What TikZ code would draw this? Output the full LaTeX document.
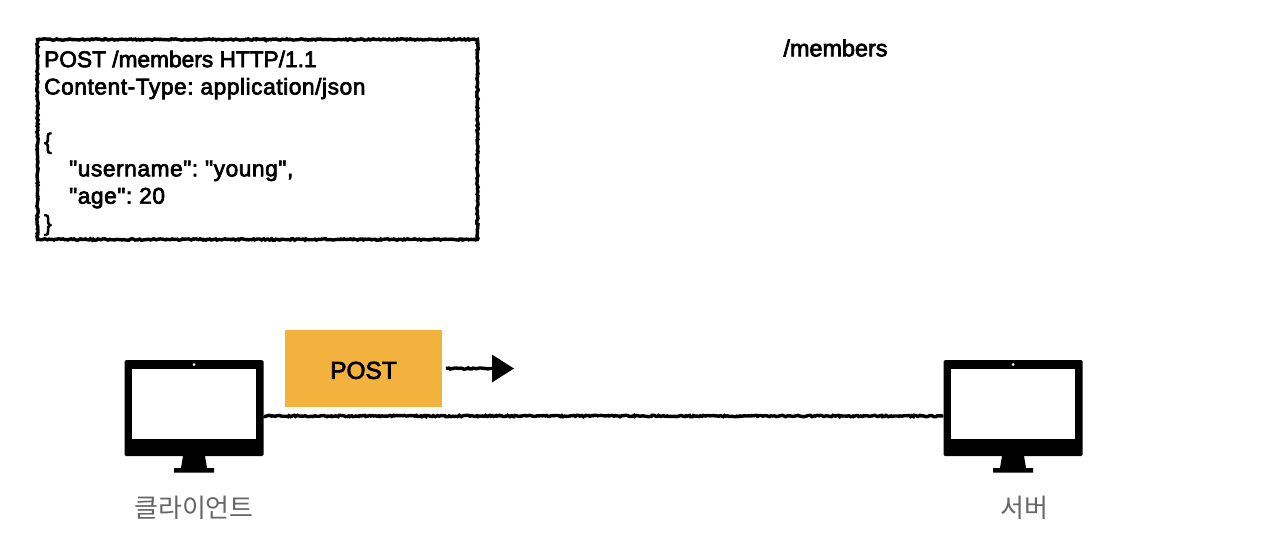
\documentclass[tikz,border=0pt]{standalone}
\usepackage{fontspec}
\setmainfont{Liberation Sans}
\newfontfamily\labelfont[FakeBold=3]{Liberation Sans}
\newfontfamily\widefont[FakeBold=3,LetterSpace=2.5]{Liberation Sans}
\newfontfamily\kofont{Noto Sans CJK KR}
\usetikzlibrary{arrows.meta,decorations.pathmorphing}
\definecolor{accent}{RGB}{243,178,61}
\definecolor{caption}{RGB}{102,102,102}
\tikzset{
  rough/.style={decorate,decoration={random steps,segment length=1.6pt,amplitude=.7pt}},
  monitor/.pic={
    \node[fill=black,rounded corners=1.5pt,inner sep=0,minimum width=139pt,minimum height=96pt] (body) at (0,0) {};
    \fill[black] (-11,48) -- (11,48) -- (13,60) -- (20,60) -- (20,64.5) -- (-20,64.5) -- (-20,60) -- (-13,60) -- cycle;
    \fill[white] (-61.7,-38.7) rectangle (61.7,31.3);
    \fill[white] (0,-43.5) circle (1.5);
  }
}
\begin{document}
\begin{tikzpicture}[x=1pt,y=-1pt,>={Triangle[length=22pt,width=27pt]}]
  \pgfmathsetseed{7}
  \useasboundingbox (0,0) rectangle (1278,550);
  \node[draw,rough,line width=3.4pt,inner sep=0,minimum width=440pt,minimum height=200pt] (request) at (257.5,139.5) {};
  \node[anchor=north west,inner sep=0,align=left,font=\frenchspacing\fontsize{22.7}{27.3}\labelfont] (body text) at (44,50.5)
        {POST /members HTTP/1.1\\
         {\widefont Content-Type: application/json}\\
         \mbox{}\\
         \{\\
         \hspace*{25pt}{\widefont "username": "young",}\\
         \hspace*{25pt}{\widefont "age": 20}\\
         \}};
  \node[font=\fontsize{23.4}{28}\labelfont] (path) at (835.5,48) {/members};

  \pic (client) at (194,408) {monitor};
  \pic (server) at (1013,408) {monitor};
  \node[font=\fontsize{26}{30}\kofont,text=caption] (client label) at (194,507.5) {클라이언트};
  \node[font=\fontsize{26}{30}\kofont,text=caption] (server label) at (1024.5,507.5) {서버};

  \node[fill=accent,inner sep=0,minimum width=157pt,minimum height=77pt,text height=20.6pt,text depth=0pt,font=\fontsize{24.4}{29}\labelfont] (post) at (363.5,368.5) {POST};
  \coordinate (post start) at (446,368.5);
  \coordinate (post tip) at (514,368.5);
  \draw[rough,line width=3.4pt] ([yshift=-8pt]clientbody.east) -- ([yshift=-8pt]serverbody.west);
  \draw[->,rough,decoration={post=lineto,post length=24pt},line width=3.4pt] (post start) -- (post tip);
\end{tikzpicture}
\end{document}
